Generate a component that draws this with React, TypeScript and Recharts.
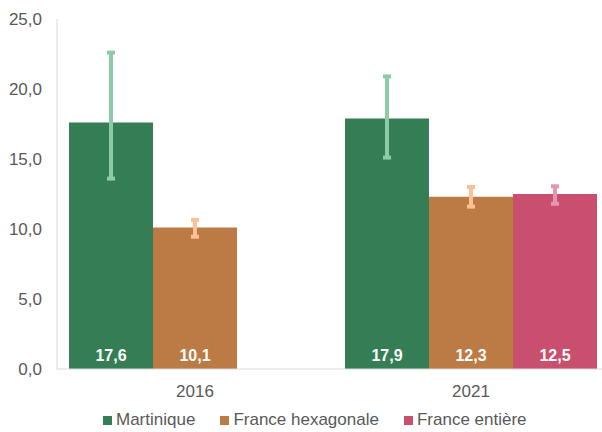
import React from "react";
import {
    BarChart,
    Bar,
    XAxis,
    YAxis,
    Legend,
    ErrorBar,
    LabelList,
} from "recharts";

const years = ["2016", "2021"];
const martinique = [17.6, 17.9];
const hexagonale = [10.1, 12.3];
const entiere: (number | null)[] = [null, 12.5];
// intervalles de confiance : [écart bas, écart haut]
const martiniqueErr = [[4.0, 5.0], [2.8, 3.0]];
const hexagonaleErr = [[0.65, 0.55], [0.7, 0.7]];
const entiereErr = [null, [0.7, 0.55]];
const yTicks = [0, 5, 10, 15, 20, 25];

const series = [
    { key: "martinique", name: "Martinique", color: "#357e55", errColor: "#8dcaa6" },
    { key: "hexagonale", name: "France hexagonale", color: "#bc7a44", errColor: "#f9c194" },
    { key: "entiere", name: "France entière", color: "#c84f6d", errColor: "#e597b0" },
];

const data = years.map((y, i) => ({
    year: y,
    martinique: martinique[i],
    hexagonale: hexagonale[i],
    entiere: entiere[i],
    martiniqueErr: martiniqueErr[i],
    hexagonaleErr: hexagonaleErr[i],
    entiereErr: entiereErr[i],
}));

const fmt = (v: any) =>
    v === null || v === undefined ? "" : Number(v).toFixed(1).replace(".", ",");

const FONT = "'Liberation Sans', Arial, sans-serif";

const renderLegend = () => (
    <div
        style={{
            display: "flex",
            paddingLeft: 103,
            fontFamily: FONT,
            fontSize: 17,
            color: "#595959",
            lineHeight: "20px",
        }}
    >
        {series.map((s) => (
            <div key={s.key} style={{ display: "flex", alignItems: "center", marginRight: 25 }}>
                <span style={{ width: 9, height: 9, background: s.color, marginRight: 4 }} />
                <span>{s.name}</span>
            </div>
        ))}
    </div>
);

const App = () => {
    return (
        <div style={{ position: "absolute", left: 0, top: 0, width: 602, height: 432, overflow: "hidden", background: "#fff" }}>
            <BarChart
                width={612}
                height={432}
                data={data}
                margin={{ top: 19, right: 3, left: 0, bottom: 13 }}
                barCategoryGap={12}
                barGap={0}
            >
                <XAxis
                    dataKey="year"
                    axisLine={{ stroke: "#d9d9d9" }}
                    tickLine={false}
                    tickSize={0}
                    tickMargin={16}
                    height={30}
                    tick={{ fill: "#595959", fontSize: 17, fontFamily: FONT }}
                />
                <YAxis
                    domain={[0, 25]}
                    ticks={yTicks}
                    width={57}
                    axisLine={{ stroke: "#d9d9d9" }}
                    tickLine={false}
                    tickSize={0}
                    tickMargin={15}
                    tickFormatter={fmt}
                    tick={{ fill: "#595959", fontSize: 17, fontFamily: FONT }}
                />
                <Legend
                    verticalAlign="bottom"
                    content={renderLegend}
                    wrapperStyle={{ height: 20, top: 410, left: 0 }}
                />
                {series.map((s) => (
                    <Bar key={s.key} dataKey={s.key} name={s.name} fill={s.color} isAnimationActive={false}>
                        <ErrorBar
                            dataKey={s.key + "Err"}
                            width={4}
                            strokeWidth={4}
                            stroke={s.errColor}
                            direction="y"
                        />
                        <LabelList
                            dataKey={s.key}
                            position="insideBottom"
                            offset={8}
                            formatter={fmt}
                            fill="#ffffff"
                            style={{ fontSize: 16, fontWeight: "bold", fontFamily: FONT }}
                        />
                    </Bar>
                ))}
            </BarChart>
        </div>
    );
};

export default App;
